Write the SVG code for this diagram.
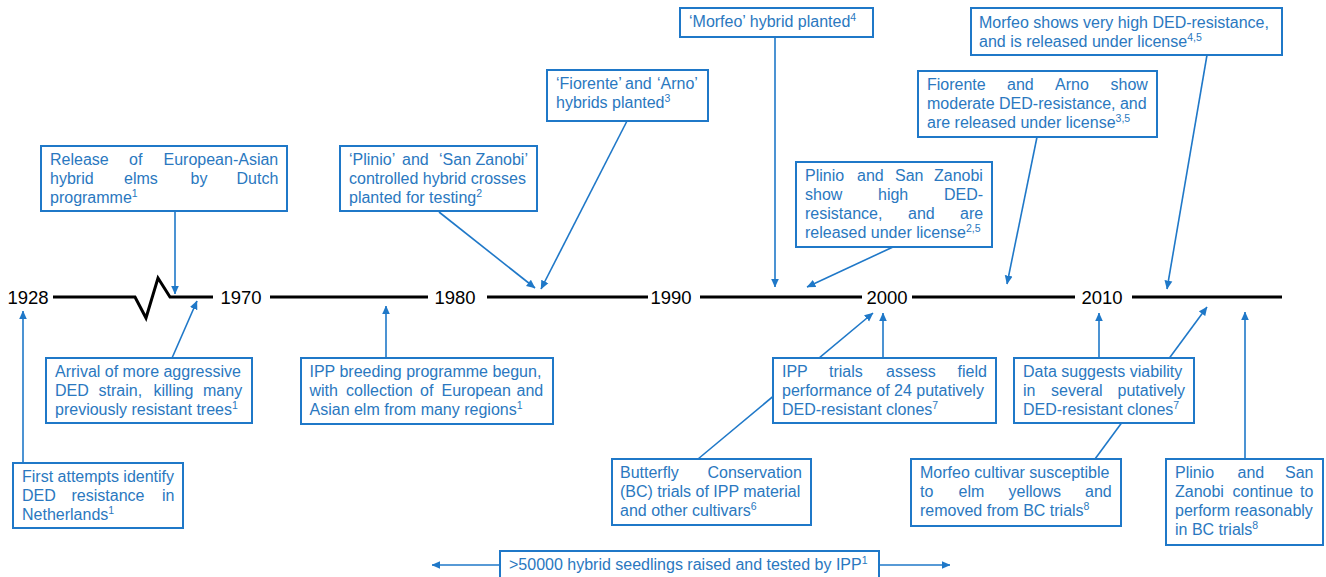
<svg xmlns="http://www.w3.org/2000/svg" width="1326" height="577" viewBox="0 0 1326 577">
<style>
.box{fill:#fff;stroke:#1f78c8;stroke-width:2}
.t{font-family:"Liberation Sans",Arial,sans-serif;font-size:16px;fill:#2a78c0}
.sup{font-size:10.5px}
.yr{font-family:"Liberation Sans",Arial,sans-serif;font-size:18.5px;fill:#000;text-anchor:middle}
.c{stroke:#1f78c8;stroke-width:1.6;fill:none;marker-end:url(#ah)}
.tl{stroke:#000;stroke-width:3;fill:none}
</style>
<defs>
<marker id="ah" viewBox="0 0 10 10" refX="9.5" refY="5" markerWidth="5.5" markerHeight="5.5" orient="auto">
<path d="M0,0.5 L10,5 L0,9.5 z" fill="#1f78c8"/>
</marker>
</defs>
<rect width="1326" height="577" fill="#fff"/>
<g id="timeline">
<path class="tl" d="M53,297 H135 L146,318 L158,278 L170,297 H213 M270,297 H428 M487,297 H648 M700,297 H862 M912,297 H1075 M1132,297 H1282"/>
<text class="yr" x="28" y="303.5">1928</text>
<text class="yr" x="241" y="303.5">1970</text>
<text class="yr" x="455" y="303.5">1980</text>
<text class="yr" x="671" y="303.5">1990</text>
<text class="yr" x="887" y="303.5">2000</text>
<text class="yr" x="1102" y="303.5">2010</text>
</g>
<g id="connectors">
<line class="c" x1="175" y1="211" x2="175" y2="294"/>
<line class="c" x1="172" y1="358" x2="197" y2="301"/>
<line class="c" x1="23" y1="463" x2="23" y2="311"/>
<line class="c" x1="439" y1="212" x2="535" y2="288"/>
<line class="c" x1="627" y1="121" x2="541" y2="289"/>
<line class="c" x1="775" y1="37" x2="775" y2="287"/>
<line class="c" x1="893" y1="247" x2="807" y2="287"/>
<line class="c" x1="1037" y1="137" x2="1007" y2="284"/>
<line class="c" x1="1207" y1="55" x2="1167" y2="289"/>
<line class="c" x1="386" y1="358" x2="386" y2="306"/>
<line class="c" x1="883" y1="358" x2="883" y2="313"/>
<line class="c" x1="698" y1="459" x2="873" y2="313"/>
<line class="c" x1="1099" y1="358" x2="1099" y2="313"/>
<line class="c" x1="1095" y1="459" x2="1207" y2="307"/>
<line class="c" x1="1245" y1="459" x2="1245" y2="312"/>
<line class="c" x1="500" y1="565" x2="432" y2="565"/>
<line class="c" x1="879" y1="565" x2="950" y2="565"/>
</g>
<g id="n1">
<rect class="box" x="41" y="146" width="246" height="65"/>
<text class="t" y="165"><tspan x="50">Release</tspan><tspan x="129">of</tspan><tspan x="163.5">European-Asian</tspan></text>
<text class="t" y="184"><tspan x="50">hybrid</tspan><tspan x="124">elms</tspan><tspan x="190.5">by</tspan><tspan x="236.5">Dutch</tspan></text>
<text class="t" x="50" y="203">programme<tspan class="sup" dy="-6">1</tspan></text>
</g>
<g id="n2">
<rect class="box" x="46" y="358" width="206" height="65"/>
<text class="t" x="55" y="377">Arrival of more aggressive</text>
<text class="t" y="396"><tspan x="55">DED</tspan><tspan x="98.5">strain,</tspan><tspan x="153.5">killing</tspan><tspan x="203">many</tspan></text>
<text class="t" x="55" y="415">previously resistant trees<tspan class="sup" dy="-6">1</tspan></text>
</g>
<g id="n3">
<rect class="box" x="13" y="463" width="170" height="65"/>
<text class="t" x="22" y="482">First attempts identify</text>
<text class="t" y="501"><tspan x="22">DED</tspan><tspan x="71.5">resistance</tspan><tspan x="162">in</tspan></text>
<text class="t" x="22" y="520">Netherlands<tspan class="sup" dy="-6">1</tspan></text>
</g>
<g id="n4">
<rect class="box" x="340" y="146" width="197" height="65"/>
<text class="t" y="165"><tspan x="349">‘Plinio’</tspan><tspan x="402">and</tspan><tspan x="439">‘San</tspan><tspan x="475.5">Zanobi’</tspan></text>
<text class="t" x="349" y="184">controlled hybrid crosses</text>
<text class="t" x="349" y="203">planted for testing<tspan class="sup" dy="-6">2</tspan></text>
</g>
<g id="n5">
<rect class="box" x="547" y="70" width="161" height="51"/>
<text class="t" y="89"><tspan x="556">‘Fiorente’</tspan><tspan x="625">and</tspan><tspan x="657">‘Arno’</tspan></text>
<text class="t" x="556" y="108">hybrids planted<tspan class="sup" dy="-6">3</tspan></text>
</g>
<g id="n6">
<rect class="box" x="680" y="8" width="193" height="29"/>
<text class="t" x="689" y="27">‘Morfeo’ hybrid planted<tspan class="sup" dy="-6">4</tspan></text>
</g>
<g id="n7">
<rect class="box" x="796" y="162" width="196" height="85"/>
<text class="t" y="181"><tspan x="805">Plinio</tspan><tspan x="857">and</tspan><tspan x="895">San</tspan><tspan x="934">Zanobi</tspan></text>
<text class="t" y="200"><tspan x="805">show</tspan><tspan x="878">high</tspan><tspan x="944">DED-</tspan></text>
<text class="t" y="219"><tspan x="805">resistance,</tspan><tspan x="908">and</tspan><tspan x="960">are</tspan></text>
<text class="t" x="805" y="238">released under license<tspan class="sup" dy="-6">2,5</tspan></text>
</g>
<g id="n8">
<rect class="box" x="918" y="71" width="239" height="66"/>
<text class="t" y="90"><tspan x="927">Fiorente</tspan><tspan x="1007">and</tspan><tspan x="1055">Arno</tspan><tspan x="1110.5">show</tspan></text>
<text class="t" x="927" y="109">moderate DED-resistance, and</text>
<text class="t" x="927" y="128">are released under license<tspan class="sup" dy="-6">3,5</tspan></text>
</g>
<g id="n9">
<rect class="box" x="971" y="8" width="311" height="47"/>
<text class="t" x="979" y="28">Morfeo shows very high DED-resistance,</text>
<text class="t" x="979" y="47">and is released under license<tspan class="sup" dy="-6">4,5</tspan></text>
</g>
<g id="n10">
<rect class="box" x="301" y="358" width="252" height="66"/>
<text class="t" x="309.5" y="377">IPP breeding programme begun,</text>
<text class="t" y="396"><tspan x="309.5">with</tspan><tspan x="346">collection</tspan><tspan x="420">of</tspan><tspan x="441.5">European</tspan><tspan x="516.5">and</tspan></text>
<text class="t" x="309.5" y="415">Asian elm from many regions<tspan class="sup" dy="-6">1</tspan></text>
</g>
<g id="n11">
<rect class="box" x="773" y="358" width="223" height="65"/>
<text class="t" y="377"><tspan x="782">IPP</tspan><tspan x="829">trials</tspan><tspan x="886">assess</tspan><tspan x="957.5">field</tspan></text>
<text class="t" x="782" y="396">performance of 24 putatively</text>
<text class="t" x="782" y="415">DED-resistant clones<tspan class="sup" dy="-6">7</tspan></text>
</g>
<g id="n12">
<rect class="box" x="612" y="459" width="199" height="66"/>
<text class="t" y="478"><tspan x="620">Butterfly</tspan><tspan x="707.5">Conservation</tspan></text>
<text class="t" x="620" y="497">(BC) trials of IPP material</text>
<text class="t" x="620" y="516">and other cultivars<tspan class="sup" dy="-6">6</tspan></text>
</g>
<g id="n13">
<rect class="box" x="1014" y="358" width="180" height="65"/>
<text class="t" x="1023" y="377">Data suggests viability</text>
<text class="t" y="396"><tspan x="1023">in</tspan><tspan x="1051">several</tspan><tspan x="1117.5">putatively</tspan></text>
<text class="t" x="1023" y="415">DED-resistant clones<tspan class="sup" dy="-6">7</tspan></text>
</g>
<g id="n14">
<rect class="box" x="911" y="459" width="210" height="67"/>
<text class="t" x="920" y="478">Morfeo cultivar susceptible</text>
<text class="t" y="497"><tspan x="920">to</tspan><tspan x="958.5">elm</tspan><tspan x="1008.5">yellows</tspan><tspan x="1085">and</tspan></text>
<text class="t" x="920" y="516">removed from BC trials<tspan class="sup" dy="-6">8</tspan></text>
</g>
<g id="n15">
<rect class="box" x="1166" y="459" width="157" height="86"/>
<text class="t" y="478"><tspan x="1175">Plinio</tspan><tspan x="1237.5">and</tspan><tspan x="1285">San</tspan></text>
<text class="t" y="497"><tspan x="1175">Zanobi</tspan><tspan x="1232.5">continue</tspan><tspan x="1300">to</tspan></text>
<text class="t" x="1175" y="516">perform reasonably</text>
<text class="t" x="1175" y="535">in BC trials<tspan class="sup" dy="-6">8</tspan></text>
</g>
<g id="n16">
<rect class="box" x="500" y="551" width="379" height="35"/>
<text class="t" x="509" y="569.5">&gt;50000 hybrid seedlings raised and tested by IPP<tspan class="sup" dy="-6">1</tspan></text>
</g>
</svg>
